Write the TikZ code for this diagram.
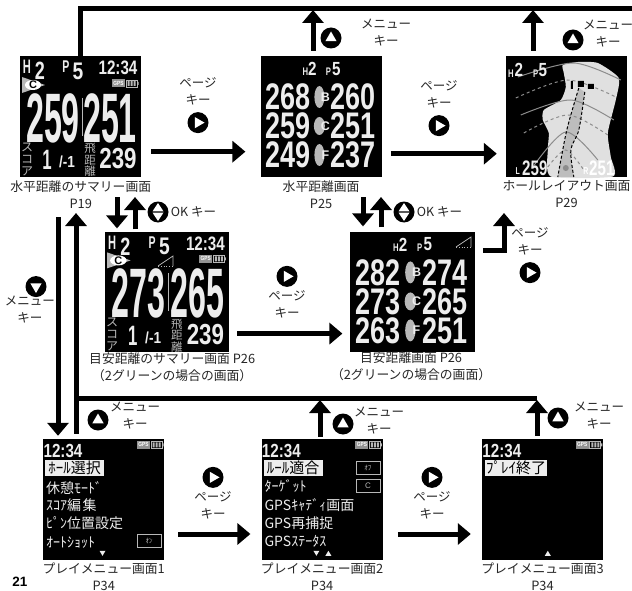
\documentclass[tikz,border=0pt]{standalone}
\usepackage{fontspec}
\usepackage{xcolor}
\usepackage{tikz}
\usetikzlibrary{positioning,arrows.meta}
\setmainfont{Noto Sans CJK JP}
\newfontfamily\numfont{Liberation Sans}
\newcommand{\squeeze}[2]{\scalebox{#1}[1]{#2}}
\definecolor{scrwhite}{gray}{0.93}
\definecolor{scrgray}{gray}{0.72}

\begin{document}
\begin{tikzpicture}[x=1pt, y=1pt,
		screen/.style={fill=black, inner sep=0pt, minimum width=121pt, minimum height=121pt},
		arw/.style={line width=5pt, -{Triangle[length=13pt, width=21pt]}},
		rail/.style={line width=5pt},
		keytxt/.style={align=center, inner sep=0pt, text=black!85, font=\fontsize{12.5}{17}\selectfont},
		keybtn/.style={circle, fill=black, inner sep=0pt, minimum size=21pt, path picture={\fill[white, shift={(path picture bounding box.center)}] (#1:6.5) -- (#1+120:6.5) -- (#1+240:6.5) -- cycle;}},
		okbtn/.style={circle, fill=black, inner sep=0pt, minimum size=21pt, path picture={\fill[white, shift={(path picture bounding box.center)}] (-5.5,0.6) -- (0,9) -- (5.5,0.6) -- cycle (-5.5,-0.6) -- (0,-9) -- (5.5,-0.6) -- cycle;}},
		scrcap/.style={inner sep=0pt, text=black!85, font=\fontsize{12.8}{17}\selectfont, align=center},
		dnum/.style={inner sep=0pt, text=scrwhite, font=\numfont\bfseries\fontsize{#1}{#1}\selectfont},
		jscr/.style={inner sep=0pt, text=scrgray, align=center, font=\fontsize{#1}{#1}\selectfont},
		mrow/.style={inner sep=0pt, anchor=west, text=scrwhite, font=\fontsize{14}{14}\selectfont},
		mhi/.style={fill=scrwhite, text=black, inner sep=0pt, anchor=west, minimum height=16pt, font=\fontsize{15}{15}\selectfont},
		mbox/.style={draw=scrgray, line width=.7pt, text=scrgray, inner sep=0pt, minimum width=24pt, minimum height=13pt, font=\fontsize{7}{7}\selectfont},
		gpsbat/.pic={
			\node[fill=scrgray!80!black, text=white, inner sep=0pt, minimum width=13pt, minimum height=8pt, font=\numfont\bfseries\fontsize{6}{6}\selectfont] (g) at (6.5,0) {\squeeze{.8}{GPS}};
			\draw[scrgray, line width=.8pt] (14,-3.5) rectangle (25,3.5);
			\fill[scrgray] (15.5,-2.5) rectangle (17.5,2.5) (18.5,-2.5) rectangle (20.5,2.5) (21.5,-2.5) rectangle (23.5,2.5) (25,-1.5) rectangle (26.5,1.5);
		},
		slopeicon/.pic={
			\draw[scrgray, line width=.8pt] (0,0) -- (15,10) -- (15,0);
			\draw[scrgray, line width=.8pt, dotted] (0,0) -- (15,0);
		}]
	\useasboundingbox (0,0) rectangle (632,-591);

	% screens
	\node[screen, anchor=north west] (s1) at (20,-56) {};
	\node[screen, right=119pt of s1] (s2) {};
	\node[screen, right=124pt of s2] (s3) {};
	\node[screen, below=54pt of s1, xshift=86.5pt, minimum width=124pt, minimum height=120pt] (s4) {};
	\node[screen, right=120pt of s4, minimum width=125pt, minimum height=120pt] (s5) {};
	\node[screen, below=87pt of s4, xshift=-63.5pt] (s6) {};
	\node[screen, right=97pt of s6] (s7) {};
	\node[screen, right=99pt of s7] (s8) {};

	% summary screens
	\foreach \scr/\xs/\da/\db in {s1/1/259/251, s4/1.025/273/265} {
		\begin{scope}[shift={(\scr.north west)}, xscale=\xs]
			\node[dnum=19.5] (\scr-h) at (7,-11) {\squeeze{.57}{H}};
			\node[dnum=25] (\scr-hn) at (20,-15) {\squeeze{.72}{2}};
			\node[dnum=17] (\scr-p) at (46,-11) {\squeeze{.62}{P}};
			\node[dnum=24] (\scr-pn) at (58,-15) {\squeeze{.8}{5}};
			\node[dnum=19.5] (\scr-t) at (98,-12) {\squeeze{.78}{12:34}};
			\fill[scrgray] (2,-21) -- (25,-29) -- (2,-37) -- cycle;
			\fill[white] (13,-29) ellipse (8 and 5);
			\node[dnum=11, text=black] (\scr-c) at (13,-29) {C};
			\pic (\scr-gps) at (92,-27.5) {gpsbat};
			\node[dnum=70] (\scr-a) at (33,-62) {\squeeze{.46}{\da}};
			\node[dnum=70] (\scr-b) at (90,-62) {\squeeze{.46}{\db}};
			\draw[scrgray, line width=.6pt] (62,-42) -- (62,-80);
			\node[jscr=12] (\scr-sc) at (7,-103.5) {ス\\コ\\ア};
			\node[dnum=28] (\scr-sa) at (27,-104) {\squeeze{.6}{1}};
			\node[dnum=16] (\scr-sb) at (47,-106) {\squeeze{.85}{/-1}};
			\node[jscr=11.5] (\scr-dr) at (70,-104) {飛\\距\\離};
			\node[dnum=29] (\scr-dn) at (98,-103) {\squeeze{.77}{239}};
		\end{scope}
	}
	\pic (s4-slope) at (158,-266) {slopeicon};

	% distance screens
	\foreach \scr/\xs/\aa/\ab/\ba/\bb/\ca/\cb in {s2/1/268/260/259/251/249/237, s5/1.033/282/274/273/265/263/251} {
		\begin{scope}[shift={(\scr.north west)}, xscale=\xs]
			\node[dnum=11] (\scr-h) at (45,-16) {\squeeze{.7}{H}};
			\node[dnum=19] (\scr-hn) at (52,-13) {\squeeze{.8}{2}};
			\node[dnum=11] (\scr-p) at (68,-16) {\squeeze{.7}{P}};
			\node[dnum=19] (\scr-pn) at (76,-13) {\squeeze{.8}{5}};
			\node[dnum=37] (\scr-aa) at (28,-41) {\squeeze{.73}{\aa}};
			\node[dnum=37] (\scr-ab) at (93,-41) {\squeeze{.73}{\ab}};
			\node[dnum=37] (\scr-ba) at (28,-70) {\squeeze{.73}{\ba}};
			\node[dnum=37] (\scr-bb) at (93,-70) {\squeeze{.73}{\bb}};
			\node[dnum=37] (\scr-ca) at (28,-99) {\squeeze{.73}{\ca}};
			\node[dnum=37] (\scr-cb) at (93,-99) {\squeeze{.73}{\cb}};
			\fill[scrgray] (59,-41) ellipse (5 and 11) (59,-70) ellipse (5.5 and 9) (59,-99) ellipse (5 and 11);
			\node[dnum=12.5] (\scr-lb) at (65,-41) {B};
			\node[dnum=12.5] (\scr-lc) at (65,-70) {C};
			\node[dnum=12.5] (\scr-lf) at (65,-99) {F};
		\end{scope}
	}
	\pic (s5-slope) at (456,-247) {slopeicon};

	% hole layout
	\begin{scope}[shift={(s3.north west)}]
		\fill[white!88!black] plot[smooth cycle, tension=.35] coordinates {(57,-9) (72,-6) (92,-7) (113,-22) (110,-44) (102,-77) (105,-101) (107,-120.5) (45,-120.5) (42,-94) (43,-77) (37,-64) (38,-54) (55,-44) (60,-31) (58,-17)};
		\fill[white!74!black] plot[smooth] coordinates {(73,-32) (61,-74) (52,-121)} -- plot[smooth] coordinates {(68,-121) (65,-94) (73,-74) (79,-36)} -- cycle;
		\draw[white!55!black, line width=1pt] plot[smooth] coordinates {(12,-21) (68,-7) (115,-24)};
		\draw[white!55!black, line width=1pt, dashed] plot[smooth] coordinates {(10,-42) (62,-24) (110,-41)};
		\draw[white!55!black, line width=1pt] plot[smooth] coordinates {(15,-59) (65,-44) (108,-64)};
		\draw[white!55!black, line width=1pt, dashed] plot[smooth] coordinates {(18,-77) (62,-59) (102,-79)};
		\draw[white!55!black, line width=1pt] plot[smooth] coordinates {(27,-111) (60,-76) (92,-104)};
		\draw[white!55!black, line width=1pt, dashed] plot[smooth] coordinates {(42,-111) (60,-94) (78,-114)};
		\draw[black, line width=1pt, densely dashed] plot[smooth] coordinates {(73,-32) (61,-74) (52,-121)};
		\draw[black, line width=1pt, densely dashed] plot[smooth] coordinates {(79,-36) (73,-74) (65,-94) (68,-121)};
		\fill[black] (65,-25) rectangle (67,-33) (72,-25) rectangle (78,-31) (82,-28) rectangle (88,-33);
		\fill[white!55!black] (60,-112) circle (3);
		\node[dnum=11] (s3-h) at (5,-18) {\squeeze{.7}{H}};
		\node[dnum=19] (s3-hn) at (13,-14) {\squeeze{.8}{2}};
		\node[dnum=11] (s3-p) at (30,-18) {\squeeze{.7}{P}};
		\node[dnum=19] (s3-pn) at (37,-14) {\squeeze{.8}{5}};
		\node[dnum=10] (s3-l) at (12,-115) {\squeeze{.7}{L}};
		\node[dnum=21] (s3-ln) at (29,-112) {\squeeze{.72}{259}};
		\node[dnum=10, text=white] (s3-r) at (80,-115) {\squeeze{.7}{R}};
		\node[dnum=21, text=white] (s3-rn) at (96,-112) {\squeeze{.72}{251}};
	\end{scope}

	% menu screens
	\foreach \scr in {s6,s7,s8} {
		\begin{scope}[shift={(\scr.north west)}]
			\node[dnum=19] (\scr-t) at (20,-12) {\squeeze{.8}{12:34}};
			\pic (\scr-gps) at (94,-6) {gpsbat};
		\end{scope}
	}
	\begin{scope}[shift={(s6.north west)}]
		\node[mhi, minimum width=59pt] (s6-a) at (2,-29) {ﾎｰﾙ選択};
		\foreach \lbl/\ty [count=\n] in {休憩ﾓｰﾄﾞ/49, ｽｺｱ編\kern1.5pt集/66, ﾋﾟﾝ位置設定/84, ｵｰﾄｼｮｯﾄ/104} {
			\node[mrow] (s6-m\n) at (3,-\ty) {\lbl};
		}
		\node[mbox] (s6-bx) at (106,-102) {ｵﾝ};
		\fill[scrwhite] (56.5,-112) -- (62.5,-112) -- (59.5,-117) -- cycle;
	\end{scope}
	\begin{scope}[shift={(s7.north west)}]
		\node[mhi, minimum width=59pt] (s7-a) at (2,-29) {ﾙｰﾙ適合};
		\foreach \lbl/\ty [count=\n] in {ﾀｰｹﾞｯﾄ/47, GPSｷｬﾃﾞｨ画面/66, GPS再捕捉/84, GPSｽﾃｰﾀｽ/103} {
			\node[mrow] (s7-m\n) at (3,-\ty) {\lbl};
		}
		\node[mbox] (s7-bxa) at (106.5,-29) {ｵﾌ};
		\node[mbox, font=\numfont\fontsize{8}{8}\selectfont] (s7-bxb) at (106.5,-47) {C};
		\fill[scrwhite] (52,-112) -- (58,-112) -- (55,-117) -- cycle;
		\fill[scrwhite] (64,-117) -- (70,-117) -- (67,-112) -- cycle;
	\end{scope}
	\begin{scope}[shift={(s8.north west)}]
		\node[mhi, minimum width=62pt] (s8-a) at (3,-29) {ﾌﾟﾚｲ終了};
		\fill[scrwhite] (63,-117) -- (69,-117) -- (66,-112) -- cycle;
	\end{scope}

	% captions
	\node[scrcap, below=3pt of s1] (c1) {水平距離のサマリー画面};
	\node[scrcap, below=6pt of c1] (p1) {P19};
	\node[scrcap, below=3pt of s2] (c2) {水平距離画面};
	\node[scrcap, below=6pt of c2] (p2) {P25};
	\node[scrcap, below=3pt of s3] (c3) {ホールレイアウト画面};
	\node[scrcap, below=6pt of c3] (p3) {P29};
	\node[scrcap, below=1pt of s4, xshift=5pt] (c4) {目安距離のサマリー画面 P26\\（2グリーンの場合の画面）};
	\node[scrcap, below=0pt of s5, xshift=-1pt] (c5) {目安距離画面 P26\\（2グリーンの場合の画面）};
	\node[scrcap, below=2pt of s6] (c6) {プレイメニュー画面1};
	\node[scrcap, below=7pt of c6] (p6) {P34};
	\node[scrcap, below=2pt of s7] (c7) {プレイメニュー画面2};
	\node[scrcap, below=7pt of c7] (p7) {P34};
	\node[scrcap, below=2pt of s8] (c8) {プレイメニュー画面3};
	\node[scrcap, below=7pt of c8] (p8) {P34};
	\node[inner sep=0pt, font=\numfont\bfseries\fontsize{13.5}{14}\selectfont] (pagenum) at (20,-582) {21};

	% key labels
	\node[keytxt] (pk1) at (198,-91) {ページ\\キー};
	\node[keybtn=0, below=7pt of pk1] (pb1) {};
	\node[keytxt] (pk2) at (439,-94) {ページ\\キー};
	\node[keybtn=0, below=7pt of pk2] (pb2) {};
	\node[keytxt] (pk3) at (287,-304) {ページ\\キー};
	\node[keybtn=0, above=3pt of pk3] (pb3) {};
	\node[keytxt] (pk4) at (530,-241) {ページ\\キー};
	\node[keybtn=0, below=7pt of pk4] (pb4) {};
	\node[keytxt] (pk5) at (213,-505) {ページ\\キー};
	\node[keybtn=0, above=3pt of pk5] (pb5) {};
	\node[keytxt] (pk6) at (432,-505) {ページ\\キー};
	\node[keybtn=0, above=3pt of pk6] (pb6) {};
	\node[keytxt] (mk1) at (386,-33) {メニュー\\キー};
	\node[keybtn=90] (mb1) at (331,-38) {};
	\node[keytxt] (mk2) at (608,-34) {メニュー\\キー};
	\node[keybtn=90] (mb2) at (573,-40) {};
	\node[keytxt] (mk3) at (30,-310) {メニュー\\キー};
	\node[keybtn=-90, above=-1pt of mk3, xshift=6pt] (mb3) {};
	\node[keytxt] (mk4) at (135,-416) {メニュー\\キー};
	\node[keybtn=90] (mb4) at (98,-420) {};
	\node[keytxt] (mk5) at (379,-421) {メニュー\\キー};
	\node[keybtn=90] (mb5) at (343,-424) {};
	\node[keytxt] (mk6) at (599,-416) {メニュー\\キー};
	\node[keybtn=90] (mb6) at (558,-418) {};
	\node[okbtn] (ok1) at (158,-212) {};
	\node[keytxt, right=2pt of ok1] (okt1) {OK キー};
	\node[okbtn] (ok2) at (404,-212) {};
	\node[keytxt, right=2pt of ok2] (okt2) {OK キー};

	% page key arrows
	\draw[arw, shorten <=10pt, shorten >=15pt] ([yshift=-35pt]s1.east) -- ([yshift=-35pt]s2.west);
	\draw[arw, shorten <=9pt, shorten >=9pt] ([yshift=-37pt]s2.east) -- ([yshift=-37pt]s3.west);
	\draw[arw, shorten <=8pt, shorten >=7pt] ([yshift=-42pt]s4.east) -- ([yshift=-42pt]s5.west);
	\draw[arw, shorten <=14pt, shorten >=11pt] ([yshift=-34.5pt]s6.east) -- ([yshift=-34.5pt]s7.west);
	\draw[arw, shorten <=15pt, shorten >=11pt] ([yshift=-34.5pt]s7.east) -- ([yshift=-34.5pt]s8.west);
	\coordinate (s5up) at (504,-213);
	\draw[arw, shorten <=8pt] ([yshift=41pt]s5.east) -| (s5up);

	% rails
	\coordinate (railtop) at (632,-8.5);
	\coordinate (s2top) at (313,-10);
	\coordinate (s3top) at (533,-10);
	\draw[rail] (s1.north) |- (railtop);
	\draw[arw, shorten <=5pt] (s2top |- s2.north) -- (s2top);
	\draw[arw, shorten <=5pt] (s3top |- s3.north) -- (s3top);
	\coordinate (railmid) at (537,-398);
	\coordinate (s7top) at (320,-400);
	\coordinate (menuup) at (76,-213);
	\coordinate (menudown) at (58,-217);
	\draw[rail] (menuup |- railmid) -- (railmid);
	\draw[arw, shorten <=2pt] (s7top |- s7.north) -- (s7top);
	\draw[arw, shorten <=3pt] (railmid |- s8.north) -- ([yshift=-2pt]railmid);
	\draw[arw, shorten >=3pt] (menudown) -- (menudown |- s6.north);
	\draw[arw, shorten <=5pt] (menuup |- s6.north) -- (menuup);

	% OK arrows
	\coordinate (okd1) at (117,-197);
	\coordinate (oku1) at (135,-197);
	\coordinate (okd2) at (363,-197);
	\coordinate (oku2) at (381,-197);
	\draw[arw, shorten >=3pt] (okd1) -- (okd1 |- s4.north);
	\draw[arw, shorten <=2pt] (oku1 |- s4.north) -- (oku1);
	\draw[arw, shorten >=5pt] (okd2) -- (okd2 |- s5.north);
	\draw[arw, shorten <=4pt] (oku2 |- s5.north) -- (oku2);
\end{tikzpicture}
\end{document}
